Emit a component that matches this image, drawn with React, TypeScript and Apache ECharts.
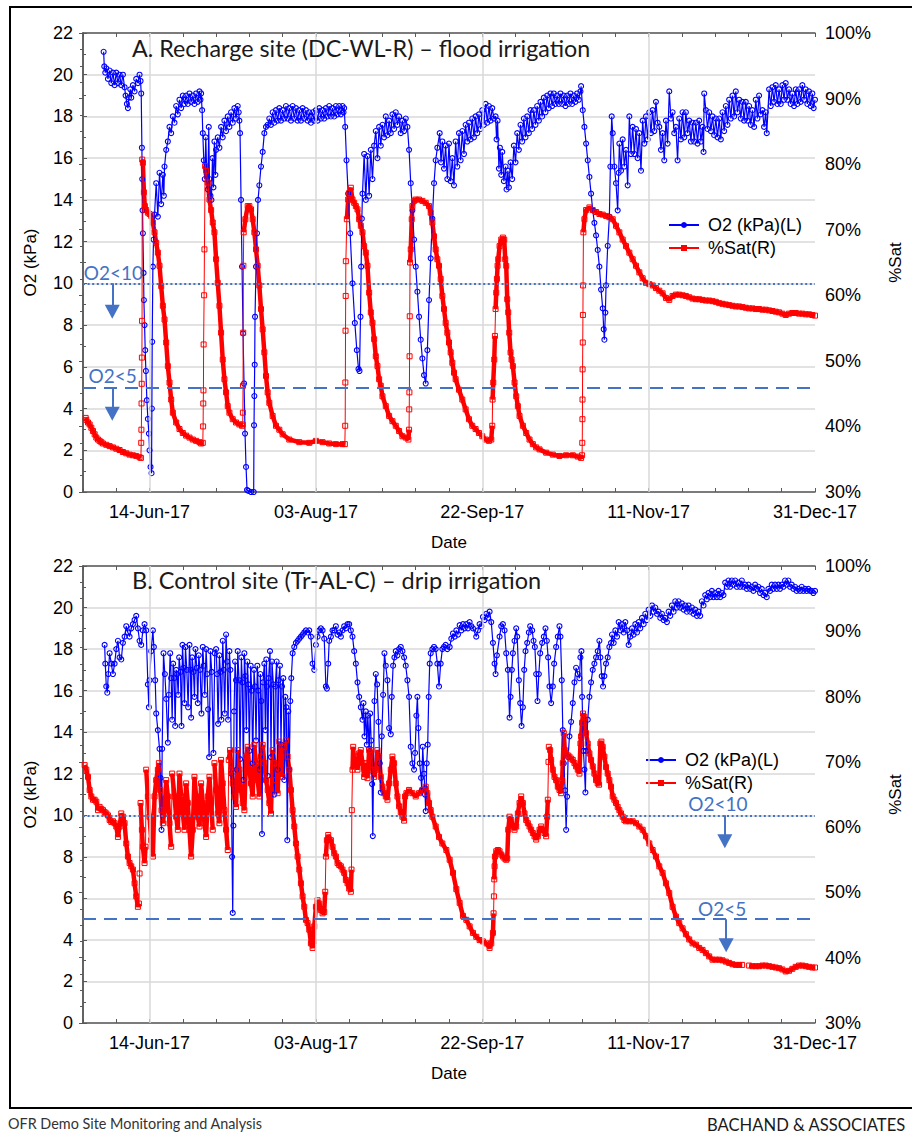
import React, { useEffect, useRef } from "react";
import * as echarts from "echarts";

// Day 0 of every series is 25-May-2017; x values are days from that date.
const DAY_MIN = 0;
const DAY_MAX = 220;
const DATE_TICK_DAYS = [20, 70, 120, 170, 220];
const DATE_TICK_LABELS = ["14-Jun-17", "03-Aug-17", "22-Sep-17", "11-Nov-17", "31-Dec-17"];
const O2_THRESHOLDS = [10, 5];
const PANEL_TITLES = [
  "A. Recharge site (DC-WL-R) \u2013 flood irrigation",
  "B. Control site (Tr-AL-C) \u2013 drip irrigation",
];
const O2_NAME = "O2 (kPa)(L)";
const SAT_NAME = "%Sat(R)";

type Pt = [number, number | null];

// Panel A: recharge site, O2 in kPa
const rechargeO2: Pt[] = [
  [6.2,21.1],[6.4,20.4],[6.7,20.1],[7.0,20.3],[7.5,19.8],[8.0,20.2],[8.5,19.6],[9.0,20.1],[9.5,19.5],[10.0,20.1],
  [10.5,19.6],[11.0,20.0],[11.5,19.5],[12.0,20.0],[12.5,19.4],[12.8,19.0],[13.2,18.6],[13.5,18.4],[13.8,18.9],[14.2,19.3],
  [14.5,18.9],[15.0,19.5],[15.5,19.2],[16.0,19.8],[16.5,19.6],[17.0,20.0],[17.3,19.7],[17.5,19.1],
  [17.7,16.5],[17.8,15.0],[17.9,13.5],[18.0,12.4],[18.2,10.5],[18.3,9.2],[18.5,8.0],[18.7,6.8],[18.9,5.8],[19.2,4.4],
  [19.5,3.5],[19.8,2.8],[20.0,2.0],[20.3,1.2],[20.6,0.9],[20.7,4.0],[20.8,7.2],[21.0,10.8],[21.2,12.1],[21.5,13.3],
  [22.0,14.8],[22.5,13.2],[23.0,15.3],[23.5,13.8],[24.0,15.2],[24.3,14.2],[24.5,15.6],[25.0,16.4],[25.5,16.8],[26.0,17.5],
  [26.5,17.2],[27.0,18.0],[27.5,17.7],[28.0,18.5],[28.5,18.1],[29.0,18.8],[29.5,18.4],[30.0,19.0],[30.5,18.6],[31.0,19.0],
  [31.5,18.6],[32.0,19.1],[32.5,18.7],[33.0,19.0],[33.5,18.6],[34.0,19.1],[34.5,18.7],[35.0,19.2],[35.3,18.8],[35.5,19.1],
  [35.8,18.3],[36.0,17.2],[36.3,15.9],[36.6,15.0],[36.9,17.0],[37.2,15.2],[37.5,14.5],[37.8,17.5],[38.0,15.0],[38.3,14.2],
  [38.6,14.0],[38.9,16.0],[39.2,14.6],[39.5,16.8],[39.8,15.2],[40.0,16.4],[40.5,17.0],[41.0,16.5],[41.5,17.5],[42.0,17.0],
  [42.5,17.8],[43.0,17.3],[43.5,18.0],[44.0,17.5],[44.5,18.2],[45.0,17.7],[45.5,18.4],[46.0,17.9],[46.5,18.5],[46.8,18.2],
  [47.0,17.8],[47.2,17.2],[47.5,14.0],[47.8,10.8],[48.1,7.6],[48.4,5.2],[48.7,2.8],[49.0,1.2],[49.3,0.1],[49.7,0.05],
  [50.5,0],[51.3,0],[51.4,3.2],[51.5,4.6],[51.6,6.1],[51.7,8.4],[52.0,10.8],[52.3,12.4],[52.6,14.0],[53.0,14.7],
  [53.5,15.6],[54.0,16.3],[54.5,17.2],[55.0,17.5],[55.5,17.6],[56.0,17.9],[56.5,17.6],[57.0,18.2],[57.5,17.7],[58.0,18.3],
  [58.5,17.8],[59.0,18.4],[59.5,17.8],[60.0,18.3],[60.5,17.9],[61.0,18.5],[61.5,17.9],[62.0,18.4],[62.5,17.8],[63.0,18.5],
  [63.5,17.9],[64.0,18.4],[64.5,17.8],[65.0,18.3],[65.5,17.8],[66.0,18.4],[66.5,17.9],[67.0,18.3],[67.5,17.8],[68.0,18.2],
  [68.5,17.7],[69.0,18.2],[69.5,17.8],[70.0,18.3],[70.5,17.8],[71.0,18.4],[71.5,17.9],[72.0,18.3],[72.5,17.9],[73.0,18.4],
  [73.5,18.0],[74.0,18.5],[74.5,18.0],[75.0,18.4],[75.5,18.0],[76.0,18.5],[76.5,18.1],[77.0,18.5],[77.5,18.1],[78.0,18.5],
  [78.3,18.2],[78.5,18.4],[78.8,17.5],[79.2,15.9],[79.7,14.3],[80.3,12.4],[81.0,10.0],[81.7,8.1],[82.3,6.8],[82.8,5.9],
  [83.1,5.8],[83.4,8.4],[83.6,10.8],[83.8,13.1],[84.0,14.3],[84.5,16.2],[85.0,14.0],[85.5,16.1],[86.0,14.2],[86.5,16.4],
  [87.0,15.0],[87.5,16.6],[88.0,17.3],[88.5,16.0],[89.0,17.5],[89.5,16.6],[90.0,17.6],[90.5,17.0],[91.0,18.0],[91.5,17.1],
  [92.0,17.8],[92.5,17.2],[93.0,18.1],[93.5,17.4],[94.0,18.2],[94.5,17.6],[95.0,18.0],[95.5,17.2],[96.0,17.8],[96.5,17.3],
  [97.0,17.9],[97.5,17.5],[98.0,16.4],[98.5,14.8],[99.0,13.5],[99.5,12.1],[100.0,10.8],[100.5,9.6],[101.0,8.4],[101.5,7.3],
  [102.0,6.4],[102.5,5.6],[103.0,5.2],[103.5,6.8],[104.0,9.2],[104.5,11.2],[105.0,13.1],[105.5,14.8],[106.0,15.9],[106.5,16.5],
  [107.2,17.2],[107.6,15.8],[108.0,16.8],[108.5,15.5],[109.0,16.6],[109.5,15.0],[110.0,16.7],[110.5,14.9],[111.0,16.0],[111.5,14.7],
  [112.0,16.8],[112.5,15.6],[113.0,17.2],[113.5,15.9],[114.0,17.3],[114.5,16.2],[115.0,17.6],[115.5,16.8],[116.0,17.7],[116.5,16.9],
  [117.0,17.9],[117.5,17.0],[118.0,18.0],[118.5,17.2],[119.0,18.1],[119.5,17.4],[120.0,18.3],[120.5,17.6],[121.0,18.6],[121.5,17.7],
  [122.0,18.5],[122.5,17.8],[123.0,18.4],[123.5,17.9],[124.0,18.0],[124.3,16.9],[124.6,17.8],[125.0,15.5],[125.3,16.5],[125.7,15.2],
  [126.0,16.3],[126.5,14.9],[127.0,15.6],[127.3,14.5],[127.7,15.4],[128.0,14.6],[128.5,15.8],[129.0,15.0],[129.5,16.6],[130.0,15.8],
  [130.5,17.2],[131.0,16.4],[131.5,17.6],[132.0,16.8],[132.5,17.9],[133.0,17.0],[133.5,18.0],[134.0,17.2],[134.5,18.3],[135.0,17.4],
  [135.5,18.3],[136.0,17.6],[136.5,18.5],[137.0,17.8],[137.5,18.7],[138.0,18.0],[138.5,18.9],[139.0,18.2],[139.5,19.0],[140.0,18.4],
  [140.5,19.1],[141.0,18.5],[141.5,19.1],[142.0,18.6],[142.5,19.0],[143.0,18.6],[143.5,19.1],[144.0,18.6],[144.5,19.0],[145.0,18.5],
  [145.5,19.0],[146.0,18.6],[146.5,19.1],[147.0,18.6],[147.5,19.0],[148.0,18.7],[148.5,19.1],[149.0,18.8],[149.5,19.2],[149.7,19.45],
  [150.2,18.3],[150.7,17.5],[151.2,16.7],[151.7,15.9],[152.2,15.1],[152.7,14.3],[153.2,13.5],[153.7,12.9],[154.2,12.3],[154.7,11.6],
  [155.2,10.8],[155.7,9.7],[156.2,8.8],[156.5,7.8],[156.7,7.3],[157.0,8.6],[157.2,9.9],[157.7,11.8],[158.2,13.2],[158.5,15.6],
  [158.9,18.0],[159.2,17.2],[159.7,15.6],[160.2,14.8],[160.7,13.5],[161.0,15.3],[161.2,16.7],[161.7,15.4],[162.2,16.9],[162.7,15.6],
  [163.2,16.4],[163.7,14.7],[164.2,18.0],[164.7,16.2],[165.2,17.5],[165.7,16.2],[166.2,17.4],[166.7,16.0],[167.2,17.2],[167.7,15.4],
  [168.2,17.8],[168.7,16.7],[169.2,18.0],[169.7,16.9],[170.2,18.2],[170.7,17.2],[171.2,18.3],[171.7,17.3],[172.2,18.7],[172.7,17.7],
  [173.2,17.5],[173.7,16.4],[174.2,17.2],[174.7,15.9],[175.2,17.8],[175.7,16.7],[176.2,19.2],[176.7,17.9],[177.2,18.2],[177.7,17.2],
  [178.2,17.5],[178.7,15.9],[179.2,17.9],[179.7,16.9],[180.2,18.2],[180.7,17.0],[181.2,18.2],[181.7,17.2],[182.2,17.8],[182.7,16.8],
  [183.2,17.7],[183.7,16.8],[184.2,17.7],[184.7,16.7],[185.2,17.8],[185.7,16.8],[186.2,17.5],[186.5,16.3],[186.7,19.1],[187.2,18.3],
  [187.7,17.4],[188.2,18.2],[188.7,17.3],[189.2,18.0],[189.7,17.1],[190.2,17.9],[190.7,17.0],[191.2,17.9],[191.7,16.9],[192.2,18.2],
  [192.7,17.3],[193.2,18.5],[193.7,17.6],[194.2,18.8],[194.7,17.9],[195.2,19.0],[195.7,18.0],[196.2,19.2],[196.7,18.2],[197.2,18.8],
  [197.7,17.9],[198.2,18.7],[198.7,17.8],[199.2,18.7],[199.7,17.8],[200.2,18.5],[200.7,17.6],[201.2,18.3],[201.7,17.5],[202.2,18.8],
  [202.7,17.9],[203.2,19.0],[203.7,18.1],[204.2,18.3],[204.7,17.5],[205.2,18.2],[205.5,17.2],[206.2,19.3],[206.7,18.5],[207.2,19.4],
  [207.7,18.7],[208.2,19.5],[208.7,18.6],[209.2,19.3],[209.7,18.6],[210.2,19.5],[210.7,18.8],[211.2,19.6],[211.7,18.8],[212.2,19.3],
  [212.7,18.6],[213.2,19.1],[213.7,18.5],[214.2,19.3],[214.7,18.6],[215.2,19.3],[215.7,18.7],[216.2,19.5],[216.7,18.8],[217.2,19.3],
  [217.7,18.6],[218.2,19.2],[218.7,18.5],[219.2,19.1],[219.6,18.4],[220.0,18.8],
];

// Panel A: recharge site, soil water saturation in %
const rechargeSat: Pt[] = [
  [0.8,41.3],[1.0,41.0],[1.5,40.6],[2.0,40.3],[2.5,39.8],[3.0,39.3],[3.5,38.8],[4.0,38.3],[4.5,38.0],[5.0,37.8],
  [5.5,37.6],[6.0,37.4],[7.0,37.2],[8.0,37.0],[9.0,36.8],[10.0,36.6],[11.0,36.4],[12.0,36.1],[13.0,35.9],[14.0,35.7],
  [15.0,35.6],[16.0,35.5],[17.0,35.3],[17.4,35.2],[17.5,37.5],[17.55,39.5],[17.6,43.5],[17.65,46.5],[17.7,50.5],[17.75,56.1],
  [17.8,80.7],[18.0,80.2],[18.3,75.7],[18.6,73.6],[19.0,73.0],[19.5,72.6],[20.0,72.4],[20.5,72.1],[21.0,71.1],[21.5,69.6],
  [22.0,68.0],[22.5,66.5],[23.0,64.5],[23.5,61.4],[24.0,58.4],[24.5,56.3],[25.0,52.8],[25.5,49.2],[26.0,46.7],[26.5,44.1],
  [27.0,42.1],[28.0,40.6],[29.0,39.6],[30.0,39.0],[31.0,38.6],[32.0,38.3],[33.0,38.0],[34.0,37.8],[35.0,37.6],[35.5,37.4],
  [36.0,37.5],[36.1,40.0],[36.15,43.5],[36.2,45.5],[36.25,52.5],[36.4,60.0],[36.5,67.0],[36.7,79.7],[37.0,79.0],[37.5,77.2],
  [38.0,74.6],[38.5,73.0],[39.0,71.1],[39.5,69.6],[40.0,65.5],[40.5,61.9],[41.0,58.4],[41.5,54.3],[42.0,50.2],[42.5,47.2],
  [43.0,45.2],[43.5,43.1],[44.0,42.1],[45.0,41.1],[46.0,40.6],[47.0,40.3],[47.8,40.1],[48.0,40.3],[48.05,42.1],[48.1,46.2],
  [48.15,54.3],[48.2,64.5],[48.3,69.6],[48.8,71.6],[49.5,73.6],[50.0,73.6],[50.5,73.1],[51.0,71.6],[51.5,69.6],[52.0,67.0],
  [52.5,64.5],[53.0,61.5],[53.5,57.9],[54.0,54.8],[54.5,51.3],[55.0,47.7],[55.5,45.2],[56.0,43.6],[57.0,41.6],[58.0,40.1],
  [59.0,39.5],[60.0,38.8],[62.0,38.0],[65.0,37.6],[68.0,37.5],[70.0,37.8],[72.0,37.6],[74.0,37.4],[76.0,37.3],[78.0,37.3],
  [78.7,37.3],[78.8,40.1],[78.85,46.7],[78.9,54.6],[78.95,59.9],[79.0,65.2],[79.3,71.6],[79.7,74.6],[80.0,75.6],[80.5,76.4],
  [81.0,74.6],[81.5,74.1],[82.0,73.6],[82.5,73.1],[83.0,71.6],[83.5,70.6],[84.0,69.6],[84.5,67.5],[85.0,66.5],[85.5,64.5],
  [86.0,60.4],[86.5,57.4],[87.0,55.8],[87.5,53.3],[88.0,50.7],[88.5,49.2],[89.0,47.2],[89.5,46.2],[90.0,44.6],[91.0,43.1],
  [92.0,41.6],[93.0,40.8],[94.0,40.1],[95.0,39.3],[96.0,38.5],[97.0,38.3],[97.8,38.0],[98.0,39.5],[98.05,42.6],[98.1,45.2],
  [98.15,50.7],[98.2,56.8],[98.3,65.0],[98.5,67.0],[98.8,71.6],[99.0,73.6],[99.5,74.4],[100.0,74.6],[101.0,74.6],[102.0,74.4],
  [103.0,74.1],[104.0,73.6],[104.5,72.6],[105.0,71.1],[105.5,69.0],[106.0,67.0],[106.5,65.5],[107.0,64.5],[107.5,62.5],[108.0,59.9],
  [108.5,57.9],[109.0,55.8],[109.5,54.3],[110.0,52.8],[110.5,51.3],[111.0,49.7],[111.5,48.2],[112.0,47.2],[113.0,45.6],[114.0,44.1],
  [115.0,42.6],[116.0,41.1],[117.0,40.1],[118.0,39.6],[119.0,39.0],[120.0,38.5],[121.0,38.0],[122.0,37.8],[122.7,38.0],[123.0,40.1],
  [123.1,44.1],[123.3,46.7],[123.6,50.2],[123.8,53.8],[124.0,57.9],[124.2,60.4],[124.4,62.5],[124.6,64.5],[124.8,65.5],[125.2,67.5],
  [125.7,68.5],[126.2,68.8],[126.6,68.5],[126.9,65.5],[127.2,64.5],[127.5,59.4],[127.8,57.4],[128.1,54.3],[128.5,51.3],[128.8,50.2],
  [129.2,49.2],[129.7,46.7],[130.2,44.6],[130.7,43.1],[131.2,41.6],[132.2,40.1],[133.2,39.0],[134.2,38.0],[135.2,37.3],[136.2,36.8],
  [137.2,36.5],[139.2,36.0],[141.2,35.7],[143.2,35.5],[145.2,35.6],[147.2,35.6],[148.7,35.4],[149.7,35.2],[150.0,35.6],[150.05,37.5],
  [150.1,41.1],[150.12,44.1],[150.15,48.7],[150.2,52.8],[150.25,57.0],[150.3,61.5],[150.4,69.6],[150.7,71.6],[151.2,73.0],[152.2,73.4],
  [153.2,73.0],[154.2,72.7],[155.2,72.4],[156.2,72.3],[157.2,72.1],[158.2,71.9],[159.2,71.6],[160.2,70.6],[161.2,69.6],[162.2,68.5],
  [163.2,67.5],[164.2,66.5],[165.2,65.5],[166.2,64.5],[167.2,63.5],[168.2,62.6],[169.2,61.9],[170.2,61.7],[171.2,61.5],[172.2,61.1],
  [173.2,60.7],[174.2,60.3],[175.2,59.6],[176.2,59.3],[177.2,59.9],[178.2,60.1],[179.2,60.1],[180.2,60.0],[181.2,59.9],[182.2,59.7],
  [183.2,59.5],[184.2,59.4],[185.2,59.4],[186.2,59.3],[187.2,59.2],[188.2,59.2],[189.2,59.1],[190.2,59.0],[191.2,58.8],[192.2,58.7],
  [193.2,58.6],[194.2,58.5],[195.2,58.4],[196.2,58.3],[197.2,58.3],[198.2,58.2],[199.2,58.1],[200.2,58.0],[201.2,58.0],[202.2,57.9],
  [203.2,57.9],[204.2,57.8],[205.2,57.8],[206.2,57.7],[207.2,57.6],[208.2,57.5],[209.2,57.4],[210.2,57.2],[211.2,57.0],[212.2,57.2],
  [213.2,57.3],[214.2,57.3],[215.2,57.2],[216.2,57.2],[217.2,57.1],[218.2,57.1],[219.2,57.0],[220.0,56.9],
];

// Panel B: control site, O2 in kPa
const controlO2: Pt[] = [
  [6.5,18.2],[6.7,17.3],[7.0,16.2],[7.3,15.9],[7.6,16.8],[8.0,17.8],[8.5,17.3],[9.0,16.8],[9.5,17.3],[10.0,18.0],
  [10.5,18.4],[11.0,17.6],[11.5,17.5],[12.0,18.3],[12.5,18.6],[13.0,19.1],[13.5,18.8],[14.0,18.6],[14.5,19.0],[15.0,19.2],
  [15.5,19.4],[16.0,19.6],[16.5,19.0],[17.0,18.4],[17.5,18.2],[18.0,18.9],[18.5,19.2],[19.0,18.9],[19.5,16.3],[19.8,15.2],
  [20.0,16.5],[20.5,17.9],[21.0,18.9],[21.3,18.1],[21.7,16.5],[22.0,14.9],[22.5,14.1],[23.0,13.2],[23.3,11.8],[23.6,9.3],
  [23.8,13.2],[24.2,17.8],[24.6,16.8],[25.0,15.6],[25.5,13.5],[25.8,15.8],[26.2,17.8],[26.5,16.6],[26.8,14.6],[27.1,17.3],
  [27.4,16.6],[27.7,14.3],[28.0,17.0],[28.3,16.8],[28.6,15.8],[28.9,17.6],[29.3,16.9],[29.6,14.3],[29.9,18.2],[30.2,17.1],
  [30.5,15.4],[30.8,18.1],[31.2,17.0],[31.6,15.2],[32.0,18.2],[32.3,17.0],[32.5,14.7],[32.8,17.6],[33.2,16.9],[33.5,15.7],
  [33.8,18.0],[34.2,17.1],[34.5,15.4],[34.8,17.7],[35.2,17.0],[35.6,14.9],[36.0,18.1],[36.3,17.2],[36.6,15.8],[37.0,18.0],
  [37.3,16.8],[37.6,15.1],[37.9,12.8],[38.3,17.9],[38.7,16.9],[39.2,13.0],[39.6,17.8],[40.0,18.0],[40.3,16.8],[40.6,14.4],
  [41.0,17.7],[41.3,16.9],[41.6,14.6],[42.0,18.4],[42.3,17.0],[42.6,14.9],[43.0,18.7],[43.3,17.4],[43.6,14.6],[44.0,17.9],
  [44.3,17.0],[44.6,12.0],[44.8,8.0],[45.0,5.3],[45.2,9.5],[45.4,15.0],[45.7,17.4],[46.0,16.5],[46.2,12.2],[46.5,17.9],
  [46.9,16.5],[47.2,12.7],[47.6,17.6],[47.9,16.4],[48.2,11.7],[48.5,17.8],[48.8,16.7],[49.1,14.1],[49.4,17.4],[49.7,16.3],
  [50.0,13.1],[50.4,17.2],[50.7,16.0],[51.0,12.5],[51.4,17.0],[51.7,16.2],[52.0,13.6],[52.4,17.2],[52.7,16.0],[53.0,12.2],
  [53.3,16.8],[53.6,15.5],[53.8,9.1],[54.1,16.4],[54.5,17.3],[54.8,14.1],[55.1,17.5],[55.3,16.2],[55.5,11.9],[55.8,16.6],
  [56.2,17.9],[56.5,12.8],[56.8,17.4],[57.2,16.3],[57.5,11.0],[57.8,16.2],[58.2,17.4],[58.5,12.2],[58.8,16.5],[59.2,17.2],
  [59.5,13.4],[59.8,16.2],[60.2,16.6],[60.5,11.7],[60.8,15.7],[61.1,15.2],[61.4,8.8],[61.7,15.0],[62.0,12.2],[62.3,15.5],
  [62.6,16.6],[63.0,17.8],[63.5,18.1],[64.0,18.3],[64.5,18.4],[65.0,18.5],[65.5,18.6],[66.0,18.7],[66.5,18.8],[67.0,18.9],
  [67.5,18.8],[68.0,18.9],[68.5,18.6],[69.0,17.3],[69.5,17.0],[70.0,18.2],[70.5,18.6],[71.0,18.9],[71.5,19.0],[72.0,18.9],
  [72.5,18.5],[73.0,16.2],[73.3,16.1],[73.7,17.3],[74.0,18.4],[74.5,18.6],[75.0,18.9],[75.5,18.9],[76.0,19.1],[76.5,18.7],
  [77.0,18.8],[77.5,18.6],[78.0,18.9],[78.5,19.1],[79.0,19.0],[79.5,19.2],[80.0,19.2],[80.5,18.9],[81.0,18.6],[81.5,17.9],
  [82.0,17.3],[82.5,16.4],[83.0,15.7],[83.5,15.2],[84.0,14.6],[84.3,15.4],[84.6,13.8],[85.0,15.0],[85.3,13.4],[85.6,14.8],
  [86.0,13.2],[86.3,14.9],[86.6,13.6],[86.9,11.5],[87.1,9.0],[87.3,12.0],[87.6,15.5],[88.0,16.8],[88.4,16.3],[88.8,14.5],
  [89.2,12.5],[89.5,11.1],[89.8,13.8],[90.2,15.8],[90.6,17.8],[91.0,17.2],[91.5,16.5],[92.0,14.2],[92.5,13.9],[92.8,15.7],
  [93.2,17.2],[93.6,17.6],[94.0,17.9],[94.5,17.7],[95.0,18.0],[95.5,18.1],[96.0,17.9],[96.5,17.6],[97.0,17.2],[97.5,16.5],
  [98.0,15.7],[98.5,13.3],[99.0,12.5],[99.5,12.2],[99.8,13.0],[100.2,14.8],[100.5,15.7],[100.8,14.2],[101.2,12.5],[101.6,11.8],
  [101.8,11.2],[102.1,13.3],[102.5,12.0],[102.8,11.0],[103.0,10.2],[103.3,12.5],[103.6,13.4],[103.9,15.7],[104.2,17.3],[104.5,17.8],
  [105.0,18.0],[105.5,18.1],[106.0,18.0],[106.5,17.3],[107.0,16.2],[107.5,17.3],[108.0,18.0],[108.5,18.1],[109.0,18.2],[109.5,18.0],
  [110.2,18.1],[110.7,18.5],[111.2,18.75],[111.7,18.6],[112.2,18.9],[112.7,18.7],[113.2,19.15],[113.7,18.9],[114.2,19.2],[114.7,19.0],
  [115.2,19.2],[115.7,19.0],[116.2,19.3],[116.7,19.1],[117.2,19.0],[118.2,18.6],[118.7,18.9],[119.2,19.2],[119.7,19.1],[120.2,19.55],
  [120.7,19.4],[121.2,19.7],[121.7,19.5],[122.2,19.8],[122.7,19.3],[123.2,18.3],[123.7,17.3],[124.0,16.8],[124.4,17.7],[125.2,18.6],
  [125.7,19.1],[126.2,19.2],[126.7,18.9],[127.2,17.8],[127.7,17.0],[128.2,14.7],[128.5,15.7],[128.9,17.0],[129.2,17.8],[129.7,18.4],
  [130.2,19.0],[130.5,18.6],[131.0,16.5],[131.4,15.4],[131.8,14.3],[132.2,15.2],[132.6,17.0],[133.0,17.9],[133.5,18.3],[134.0,18.8],
  [134.4,19.1],[135.0,18.9],[135.4,18.4],[135.8,18.1],[136.2,16.8],[136.6,15.5],[137.0,16.8],[137.4,17.8],[138.0,18.3],[138.5,18.6],
  [139.0,19.0],[139.4,18.4],[139.8,17.6],[140.2,16.2],[140.7,15.4],[141.2,16.2],[141.6,17.3],[142.2,18.1],[142.7,18.6],[143.2,19.1],
  [143.5,18.6],[143.9,16.5],[144.2,14.1],[144.5,12.5],[144.9,11.2],[145.2,9.3],[145.5,10.9],[145.8,12.8],[146.2,13.8],[146.7,14.5],
  [147.2,15.4],[147.7,16.4],[148.2,17.1],[148.7,16.8],[149.2,16.6],[149.5,17.6],[149.8,17.9],[150.0,15.7],[150.4,13.1],[150.7,12.2],
  [151.0,11.1],[151.2,13.1],[151.7,14.6],[152.2,15.7],[152.7,16.4],[153.2,17.0],[153.7,17.3],[154.2,17.6],[154.7,17.9],[155.2,18.4],
  [155.5,17.6],[155.9,16.7],[156.3,16.2],[156.7,16.7],[157.2,17.3],[157.7,17.6],[158.2,18.1],[158.7,18.3],[159.0,18.7],[159.5,18.3],
  [160.0,18.9],[160.5,18.6],[161.0,19.3],[161.5,18.9],[162.0,19.2],[162.5,18.8],[163.0,19.3],[163.5,18.9],[164.0,18.2],[164.5,18.6],
  [165.0,19.0],[165.5,18.7],[166.0,19.2],[166.5,18.8],[167.0,19.3],[167.5,19.0],[168.0,19.5],[168.5,19.2],[169.0,19.7],[169.5,19.4],
  [170.0,19.9],[170.5,19.6],[171.0,20.1],[171.5,19.8],[172.0,20.0],[172.5,19.7],[173.0,19.8],[173.5,19.5],[174.0,19.7],[174.5,19.4],
  [175.0,19.5],[175.5,19.3],[176.0,19.8],[176.5,19.6],[177.0,20.1],[177.5,19.8],[178.0,20.3],[178.5,20.0],[179.0,20.3],[179.5,20.0],
  [180.0,20.2],[180.5,19.9],[181.0,20.1],[181.5,19.8],[182.0,20.1],[182.5,19.8],[183.0,20.0],[183.5,19.7],[184.0,19.9],[184.5,19.6],
  [185.0,19.8],[185.5,19.6],[186.0,20.3],[186.5,20.1],[187.0,20.6],[187.5,20.4],[188.0,20.7],[188.5,20.5],[189.0,20.8],[189.5,20.5],
  [190.0,20.7],[190.5,20.5],[191.0,20.8],[191.5,20.5],[192.0,20.7],[192.5,20.6],[193.0,21.2],[193.5,21.0],[194.0,21.3],[194.5,21.0],
  [195.0,21.3],[195.5,21.1],[196.0,21.3],[196.5,21.0],[197.0,21.2],[197.5,21.0],[198.0,21.3],[198.5,21.0],[199.0,21.1],[199.5,20.9],
  [200.0,21.1],[200.5,20.9],[201.0,21.0],[201.5,20.8],[202.0,21.1],[202.5,20.9],[203.0,21.0],[203.5,20.7],[204.0,20.9],[204.5,20.6],
  [205.0,20.7],[205.5,20.5],[206.0,20.9],[206.5,20.8],[207.0,21.1],[207.5,20.9],[208.0,21.1],[208.5,20.9],[209.0,21.1],[209.5,20.9],
  [210.0,21.1],[210.5,21.0],[211.0,21.3],[211.5,21.1],[212.0,21.3],[212.5,21.0],[213.0,21.1],[213.5,20.9],[214.0,21.0],[214.5,20.8],
  [215.0,20.9],[215.5,20.8],[216.0,21.0],[216.5,20.8],[217.0,20.9],[217.5,20.8],[218.0,20.9],[218.5,20.8],[219.0,20.8],[219.5,20.7],
  [220.0,20.8],
];

// Panel B: control site, soil water saturation in % (null marks a logger gap)
const controlSat: Pt[] = [
  [0.5,69.5],[1.0,68.8],[1.5,67.7],[2.0,65.7],[2.5,64.7],[3.0,64.2],[3.5,64.2],[4.0,63.9],[4.5,62.6],[5.0,63.1],
  [5.5,62.8],[6.0,62.6],[6.5,62.3],[7.0,62.1],[7.5,61.8],[8.0,61.1],[8.5,60.8],[9.0,60.9],[9.5,60.6],[10.0,60.1],
  [10.5,58.5],[11.0,60.1],[11.5,62.1],[12.0,61.6],[12.5,60.6],[13.0,57.5],[13.5,55.5],[14.0,54.5],[14.5,54.0],[15.0,53.5],
  [15.5,51.4],[16.0,49.4],[16.5,47.8],[16.8,48.3],[17.0,52.9],[17.3,63.7],[17.7,59.6],[18.0,57.0],[18.5,54.5],[18.8,57.0],
  [19.0,68.8],[19.5,64.7],[20.0,61.6],[20.5,58.0],[21.0,55.5],[21.5,64.7],[22.0,67.2],[22.5,68.8],[22.8,69.8],[23.2,65.7],
  [23.6,62.6],[24.0,60.6],[24.5,62.6],[25.0,67.2],[25.5,64.7],[26.0,60.6],[26.5,57.0],[26.8,68.2],[27.5,64.7],[28.0,61.6],
  [28.5,59.6],[29.0,68.2],[29.5,64.7],[30.0,62.1],[30.5,59.6],[31.0,66.7],[31.5,63.7],[32.0,59.6],[32.5,55.5],[33.0,59.6],
  [33.5,67.7],[34.0,64.7],[34.5,61.6],[35.0,60.1],[35.5,66.7],[36.0,63.7],[36.5,60.6],[37.0,58.5],[37.5,64.7],[38.0,67.7],
  [38.5,63.7],[39.0,59.6],[39.5,69.8],[40.0,65.7],[40.5,62.1],[41.0,60.6],[41.5,70.3],[42.0,66.7],[42.5,62.6],[43.0,59.6],
  [43.5,56.5],[43.8,70.3],[44.2,71.8],[44.6,68.8],[45.0,66.7],[45.5,64.7],[46.0,63.1],[46.5,71.8],[47.0,68.8],[47.5,65.7],
  [48.0,63.7],[48.5,62.6],[49.0,70.8],[49.5,72.3],[50.0,68.8],[50.5,66.7],[51.0,64.7],[51.5,72.6],[52.0,69.8],[52.5,67.2],
  [53.0,64.7],[53.5,70.8],[54.0,72.6],[54.5,69.8],[55.0,67.2],[55.5,65.7],[56.0,63.7],[56.5,62.1],[57.0,71.8],[57.5,69.8],
  [58.0,67.2],[58.5,65.2],[59.0,73.1],[59.5,70.8],[60.0,67.7],[60.5,72.3],[61.0,73.3],[61.5,70.8],[62.0,68.8],[62.5,65.7],
  [63.0,62.6],[63.5,60.1],[64.0,57.5],[64.5,55.5],[65.0,53.5],[65.5,51.4],[66.0,49.4],[66.5,47.8],[67.0,45.8],[67.5,45.3],
  [68.0,44.3],[68.5,42.2],[69.0,41.5],[69.3,42.5],[69.5,44.8],[70.0,47.8],[70.5,48.8],[71.0,48.3],[71.5,47.3],[72.0,46.8],
  [72.5,47.0],[72.8,50.1],[73.0,55.5],[73.3,58.0],[73.7,58.8],[74.5,58.0],[75.0,57.0],[75.5,56.0],[76.0,55.5],[76.5,54.5],
  [77.0,54.2],[77.5,54.0],[78.0,53.5],[78.5,53.0],[79.0,51.9],[79.5,51.4],[80.0,50.6],[80.5,50.1],[80.7,53.5],[80.8,62.6],
  [81.0,68.8],[81.2,72.3],[81.5,69.8],[82.0,70.8],[82.5,68.8],[83.0,71.3],[83.5,71.8],[84.0,69.8],[84.5,67.7],[85.0,69.8],
  [85.5,67.5],[86.0,71.8],[86.5,71.8],[87.0,68.8],[87.5,67.7],[88.0,68.8],[88.5,71.8],[89.0,70.8],[89.5,67.7],[90.0,66.2],
  [90.5,65.2],[91.0,64.7],[91.5,64.2],[92.0,66.7],[92.5,68.8],[93.0,70.8],[93.5,69.8],[94.0,66.7],[94.5,64.7],[95.0,63.2],
  [95.5,62.3],[96.0,61.6],[96.5,61.0],[96.8,64.7],[97.2,65.2],[98.0,65.7],[99.0,65.2],[100.0,64.7],[101.0,65.2],[102.0,65.7],
  [103.0,66.2],[103.5,65.2],[104.0,63.7],[104.5,62.6],[105.0,61.6],[106.0,60.1],[107.0,58.5],[108.0,57.5],[109.2,56.5],[110.2,55.0],
  [111.2,53.0],[112.2,50.5],[113.2,48.4],[114.2,46.4],[115.2,45.8],[116.2,44.8],[117.2,43.8],[118.2,43.2],[119.2,42.7],[120.2,42.5],
  [121.2,42.2],[122.2,41.5],[122.7,42.2],[123.2,43.8],[123.4,46.8],[123.5,49.4],[123.6,52.0],[123.7,54.0],[123.8,55.5],[124.2,56.3],
  [124.7,56.5],[125.2,56.3],[125.7,55.8],[126.2,55.5],[126.7,55.2],[127.2,55.0],[127.5,55.2],[127.8,59.6],[128.2,61.6],[128.7,61.1],
  [129.2,60.1],[129.7,59.6],[130.2,60.1],[130.7,62.1],[131.2,63.7],[131.7,64.7],[132.2,63.7],[132.7,62.1],[133.2,61.1],[133.7,60.6],
  [134.2,60.1],[134.7,59.6],[135.2,59.1],[135.7,58.6],[136.2,58.1],[136.7,58.6],[137.2,59.6],[137.7,60.1],[138.2,59.6],[138.7,59.1],
  [139.2,58.6],[139.5,61.6],[139.7,64.2],[139.9,70.0],[140.0,72.3],[140.4,71.8],[140.7,70.3],[141.2,68.8],[141.7,67.7],[142.2,67.2],
  [142.7,66.2],[143.2,65.7],[143.7,65.2],[144.0,67.2],[144.2,69.8],[144.5,74.4],[144.8,71.8],[145.2,71.3],[145.7,71.0],[146.2,70.8],
  [146.7,70.5],[147.2,70.3],[147.7,69.8],[148.2,69.3],[148.7,68.8],[149.2,68.2],[149.5,72.8],[149.7,73.9],[150.0,76.0],[150.3,77.4],
  [150.7,76.9],[151.2,74.4],[151.7,72.8],[152.2,71.3],[152.7,70.3],[153.2,69.3],[153.7,68.2],[154.2,67.2],[154.7,66.7],[155.1,66.5],
  [155.5,72.8],[155.8,73.1],[156.2,72.3],[156.7,70.8],[157.2,69.2],[157.7,68.2],[158.2,67.2],[158.7,66.2],[159.2,64.7],[159.7,64.2],
  [160.2,63.7],[160.7,63.1],[161.2,62.6],[161.7,62.1],[162.2,61.6],[162.7,61.1],[163.2,60.9],[164.2,60.9],[165.2,60.9],[166.2,60.6],
  [167.2,60.1],[168.2,59.6],[169.2,58.6],[170.2,57.5],[171.2,56.5],[172.2,55.5],[173.2,54.0],[174.2,53.0],[175.2,51.4],[176.2,49.9],
  [177.2,47.8],[178.2,46.3],[179.2,45.3],[180.2,44.5],[181.2,43.6],[182.2,42.8],[183.2,42.2],[184.2,42.0],[185.2,41.5],[186.2,41.2],
  [187.2,40.7],[188.2,40.2],[189.2,39.7],[190.2,39.7],[191.2,39.7],[192.2,39.6],[193.2,39.4],[194.2,39.2],[195.2,39.0],[196.2,38.9],
  [197.2,38.9],[198.1,38.9],[199.2,null],[200.2,38.8],[201.2,38.7],[202.2,38.7],[203.2,38.7],[204.2,38.8],[205.2,38.8],[206.2,38.7],
  [207.2,38.6],[208.2,38.5],[209.2,38.4],[210.2,38.2],[211.2,37.9],[212.2,38.0],[213.2,38.3],[214.2,38.6],[215.2,38.8],[216.2,38.8],
  [217.2,38.7],[218.2,38.6],[219.2,38.5],[220.0,38.5],
];

// Threshold call-outs: text position and arrow (day, kPa)
const NOTE_TEXTS = ["O2<10", "O2<5"];
const notesA = { labelDay: [9.15, 8.9], labelKpa: [10.51, 5.59], arrowDay: [8.8, 8.8], arrowTo: [8.64, 3.75] };
const notesB = { labelDay: [190.8, 192.1], labelKpa: [10.58, 5.51], arrowDay: [192.9, 193.3], arrowTo: [8.75, 3.74] };

const BLUE = "#0000ff";
const RED = "#ff0000";
const GUIDE = "#4472c4";
const GRID_GREY = "#d9d9d9";
const FRAME = "#595959";
const ARIAL = "'Liberation Sans', Arial, sans-serif";
const CALIBRI = "Lato, 'Open Sans', sans-serif";

const toSeriesData = (pts: Pt[]) => pts.map(([d, v]) => [d, v === null ? "-" : v]);

// Thick red band: same readings, but broken across the steep re-wetting rises
function bandData(pts: Pt[]) {
  const out: (number | string)[][] = [];
  for (let i = 0; i < pts.length; i++) {
    const [d, v] = pts[i];
    if (i > 0) {
      const [pd, pv] = pts[i - 1];
      if (v !== null && pv !== null && (v - pv) / (d - pd) > 20) out.push([d, "-"]);
    }
    out.push([d, v === null ? "-" : v]);
  }
  return out;
}

const dateLabel = (v: number) => {
  const i = DATE_TICK_DAYS.indexOf(Math.round(v));
  return i >= 0 ? DATE_TICK_LABELS[i] : "";
};

function panelAxes(p: number) {
  const xBottom = {
    type: "value", gridIndex: p, min: DAY_MIN, max: DAY_MAX, interval: 10, position: "bottom",
    axisLine: { show: true, onZero: false, lineStyle: { color: FRAME, width: 1.5 } },
    axisTick: { show: true, inside: true, length: 4, lineStyle: { color: FRAME } },
    axisLabel: { formatter: dateLabel, fontSize: 18, color: "#000", fontFamily: ARIAL, margin: 11 },
    splitLine: { show: false },
    name: "Date", nameLocation: "middle", nameGap: 42,
    nameTextStyle: { fontSize: 17, color: "#000", fontFamily: ARIAL },
  };
  const xTop = {
    type: "value", gridIndex: p, min: DAY_MIN, max: DAY_MAX, interval: 10, position: "top",
    axisLine: { show: true, onZero: false, lineStyle: { color: FRAME, width: 1.5 } },
    axisTick: { show: true, inside: true, length: 4, lineStyle: { color: FRAME } },
    axisLabel: { show: false }, splitLine: { show: false },
  };
  const yLeft = {
    type: "value", gridIndex: p, min: 0, max: 22, interval: 2, position: "left",
    axisLine: { show: true, lineStyle: { color: FRAME, width: 1.5 } },
    axisTick: { show: true, inside: true, length: 4, lineStyle: { color: FRAME } },
    minorTick: { show: true, splitNumber: 2, length: 3, lineStyle: { color: FRAME } },
    axisLabel: { fontSize: 18, color: "#000", fontFamily: ARIAL, margin: 10 },
    splitLine: { show: true, lineStyle: { color: GRID_GREY, width: 1.5 } },
    name: "O2 (kPa)", nameLocation: "middle", nameGap: 44, nameRotate: 90,
    nameTextStyle: { fontSize: 17, color: "#000", fontFamily: ARIAL },
  };
  const yRight = {
    type: "value", gridIndex: p, min: 30, max: 100, interval: 10, position: "right",
    axisLine: { show: true, lineStyle: { color: FRAME, width: 1.5 } },
    axisTick: { show: true, inside: true, length: 4, lineStyle: { color: FRAME } },
    minorTick: { show: true, splitNumber: 4, length: 3, lineStyle: { color: FRAME } },
    axisLabel: { formatter: (v: number) => `${v}%`, fontSize: 18, color: "#000", fontFamily: ARIAL, margin: 10 },
    splitLine: { show: false },
    name: "%Sat", nameLocation: "middle", nameGap: 72, nameRotate: 90,
    nameTextStyle: { fontSize: 17, color: "#000", fontFamily: ARIAL },
  };
  return { xBottom, xTop, yLeft, yRight };
}

function panelSeries(p: number, o2: Pt[], sat: Pt[], notes: typeof notesA) {
  const xAxisIndex = p * 2;
  const yO2 = p * 2;
  const ySat = p * 2 + 1;
  return [
    {
      type: "line", xAxisIndex, yAxisIndex: yO2, data: [], z: 1, silent: true,
      markLine: {
        silent: true, animation: false, symbol: ["none", "none"], label: { show: false },
        data: [
          ...DATE_TICK_DAYS.filter((d) => d < DAY_MAX).map((d) => ({
            xAxis: d, lineStyle: { color: GRID_GREY, width: 1.5, type: "solid" },
          })),
          { yAxis: O2_THRESHOLDS[0], lineStyle: { color: GUIDE, width: 2.2, type: [2, 2.6] } },
          { yAxis: O2_THRESHOLDS[1], lineStyle: { color: GUIDE, width: 2, type: [13, 8] } },
        ],
      },
    },
    {
      type: "line", xAxisIndex, yAxisIndex: ySat, data: bandData(sat), z: 2, silent: true,
      showSymbol: false, lineStyle: { color: RED, width: 4.5 }, itemStyle: { color: RED },
    },
    {
      name: O2_NAME, type: "line", xAxisIndex, yAxisIndex: yO2, data: toSeriesData(o2), z: 3,
      symbol: "circle", symbolSize: 5, showAllSymbol: true,
      lineStyle: { color: BLUE, width: 1.2 },
      itemStyle: { color: "rgba(255,255,255,0)", borderColor: BLUE, borderWidth: 1.1 },
    },
    {
      name: SAT_NAME, type: "line", xAxisIndex, yAxisIndex: ySat, data: toSeriesData(sat), z: 4,
      symbol: "rect", symbolSize: 5, showAllSymbol: true,
      lineStyle: { color: RED, width: 1 },
      itemStyle: { color: "rgba(255,255,255,0)", borderColor: RED, borderWidth: 1 },
    },
    {
      type: "line", xAxisIndex, yAxisIndex: yO2, data: [], z: 6, silent: true,
      markLine: {
        silent: true, animation: false, label: { show: false },
        symbol: ["none", "triangle"], symbolSize: [15, 14],
        lineStyle: { color: GUIDE, width: 2, type: "solid" },
        data: O2_THRESHOLDS.map((t, i) => [
          { coord: [notes.arrowDay[i], t] },
          { coord: [notes.arrowDay[i], notes.arrowTo[i]] },
        ]),
      },
      markPoint: {
        silent: true, animation: false, symbol: "circle", symbolSize: 1,
        itemStyle: { color: "rgba(0,0,0,0)" },
        data: NOTE_TEXTS.map((t, i) => ({
          coord: [notes.labelDay[i], notes.labelKpa[i]],
          label: {
            show: true, position: "inside", formatter: t, color: GUIDE,
            fontSize: 19, fontFamily: CALIBRI,
          },
        })),
      },
    },
  ];
}

export default function App() {
  const ref = useRef<HTMLDivElement>(null);

  useEffect(() => {
    if (!ref.current) return;
    const chart = echarts.init(ref.current, null, { renderer: "svg" });
    const a = panelAxes(0);
    const b = panelAxes(1);
    const legendBase = {
      orient: "vertical", itemWidth: 30, itemHeight: 5, itemGap: 5, selectedMode: false,
      data: [O2_NAME, SAT_NAME],
      textStyle: { fontSize: 18, color: "#000", fontFamily: ARIAL, lineHeight: 18, padding: [0, 0, 0, 4] },
    };
    chart.setOption({
      animation: false,
      backgroundColor: "#ffffff",
      grid: [
        { left: 83, top: 33, width: 734, height: 459, containLabel: false },
        { left: 83, top: 566, width: 734, height: 457, containLabel: false },
      ],
      xAxis: [a.xBottom, a.xTop, b.xBottom, b.xTop],
      yAxis: [a.yLeft, a.yRight, b.yLeft, b.yRight],
      legend: [
        { ...legendBase, left: 663, top: 211 },
        { ...legendBase, left: 640, top: 746 },
      ],
      series: [
        ...panelSeries(0, rechargeO2, rechargeSat, notesA),
        ...panelSeries(1, controlO2, controlSat, notesB),
      ],
      graphic: [
        {
          type: "rect", silent: true, z: 0,
          shape: { x: 10, y: 7, width: 930, height: 1101 },
          style: { fill: "none", stroke: "#000", lineWidth: 2 },
        },
        {
          type: "text", x: 132, y: 48, silent: true, z: 10,
          style: { text: PANEL_TITLES[0], fontSize: 23.3, fontFamily: CALIBRI, fill: "#1a1a1a", verticalAlign: "middle" },
        },
        {
          type: "text", x: 132, y: 580, silent: true, z: 10,
          style: { text: PANEL_TITLES[1], fontSize: 23.5, fontFamily: CALIBRI, fill: "#1a1a1a", verticalAlign: "middle" },
        },
        {
          type: "text", x: 8, y: 1123, silent: true,
          style: { text: "OFR Demo Site Monitoring and Analysis", fontSize: 14.4, fontFamily: CALIBRI, fill: "#333", verticalAlign: "middle" },
        },
        {
          type: "text", x: 707, y: 1125, silent: true,
          style: { text: "BACHAND & ASSOCIATES", fontSize: 16.6, fontFamily: CALIBRI, fill: "#1a1a1a", verticalAlign: "middle" },
        },
      ],
    });
    return () => chart.dispose();
  }, []);

  return (
    <div
      ref={ref}
      style={{ position: "fixed", left: 0, top: 0, width: 912, height: 1135, background: "#fff" }}
    />
  );
}
